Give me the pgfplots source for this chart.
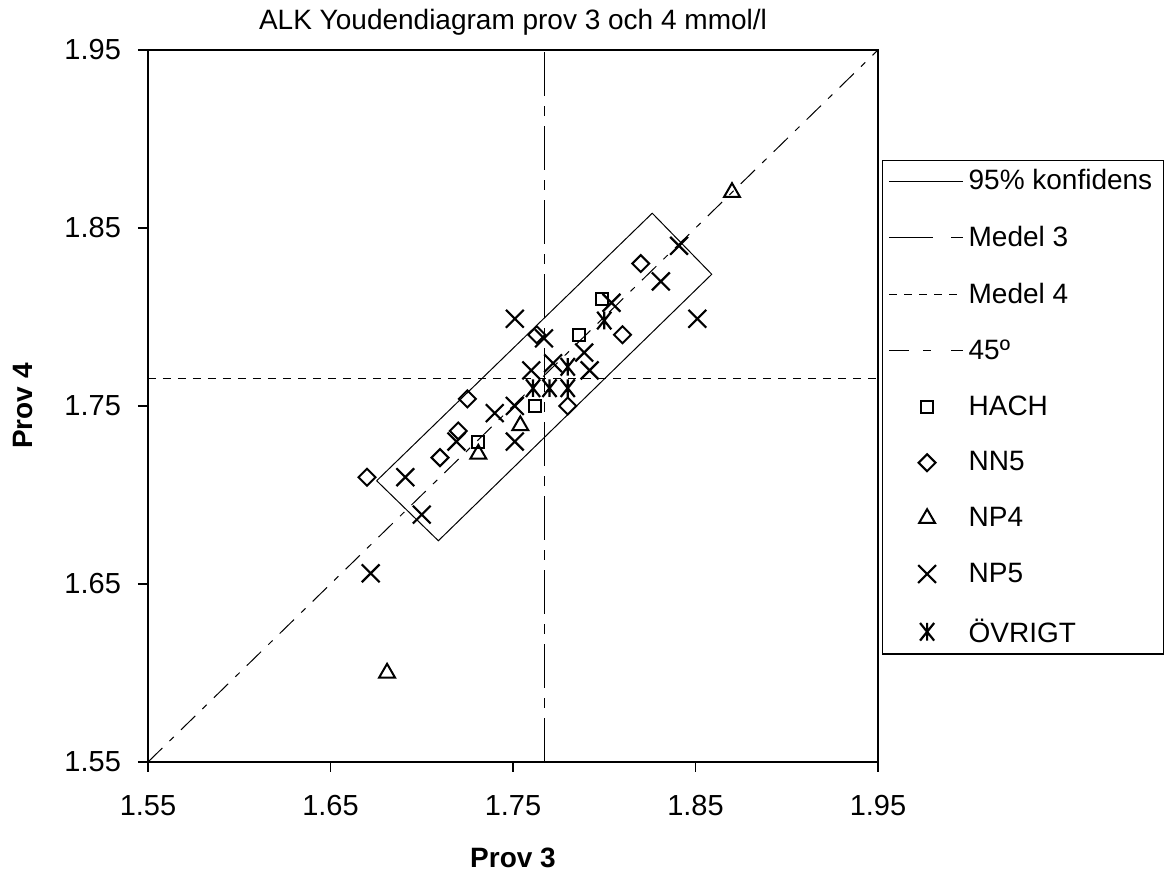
\documentclass[border=0pt]{standalone}
\usepackage{fontspec}
\setmainfont{Liberation Sans}
\usepackage{pgfplots}
\pgfplotsset{compat=1.18}
\pgfdeclareplotmark{xstar}{%
  \pgfpathmoveto{\pgfqpoint{-0.8\pgfplotmarksize}{-\pgfplotmarksize}}%
  \pgfpathlineto{\pgfqpoint{0.8\pgfplotmarksize}{\pgfplotmarksize}}%
  \pgfpathmoveto{\pgfqpoint{-0.8\pgfplotmarksize}{\pgfplotmarksize}}%
  \pgfpathlineto{\pgfqpoint{0.8\pgfplotmarksize}{-\pgfplotmarksize}}%
  \pgfpathmoveto{\pgfqpoint{0pt}{-\pgfplotmarksize}}%
  \pgfpathlineto{\pgfqpoint{0pt}{\pgfplotmarksize}}%
  \pgfusepathqstroke}
\pgfplotsset{
  lineleg/.style={legend image code/.code={\draw[##1] (0pt,0pt) -- (37pt,0pt);}},
  markleg/.style={legend image code/.code={\draw[mark repeat=2,mark phase=2,##1] plot coordinates {(0pt,0pt)(19pt,0pt)(38pt,0pt)};}},
  mthreeleg/.style={legend image code/.code={\draw[black,line width=0.5pt] (0pt,0pt) -- (23pt,0pt) (31pt,0pt) -- (37pt,0pt);}},
  fortyfiveleg/.style={legend image code/.code={\draw[black,line width=0.5pt] (0pt,0pt) -- (11pt,0pt) (17pt,0pt) -- (21pt,0pt) (31pt,0pt) -- (37pt,0pt);}},
}
\begin{document}
\begin{tikzpicture}
\path[use as bounding box] (-74pt,-57pt) rectangle (514pt,381pt);
\begin{axis}[
  at={(0pt,0pt)}, anchor=south west,
  scale only axis, width=365pt, height=356pt,
  xmin=1.55, xmax=1.95, ymin=1.55, ymax=1.95,
  xtick={1.55,1.65,1.75,1.85,1.95}, ytick={1.55,1.65,1.75,1.85,1.95},
  xticklabels={1.55,1.65,1.75,1.85,1.95},
  yticklabels={1.55,1.65,1.75,1.85,1.95},
  tick align=outside, major tick length=5pt,
  tick style={black, line width=0.6pt},
  xtick pos=bottom, ytick pos=left,
  axis line style={line width=0.6pt},
  ticklabel style={font=\fontsize{14.5}{17}\selectfont},
  xticklabel style={yshift=-8pt},
  yticklabel style={xshift=-5pt},
  title={ALK Youdendiagram prov 3 och 4 mmol/l},
  title style={font=\fontsize{14}{16}\selectfont, at={(axis description cs:0.5,1.0215)}, anchor=center},
  xlabel={Prov 3}, ylabel={Prov 4},
  xlabel style={font=\bfseries\fontsize{14}{16}\selectfont, at={(axis description cs:0.5,-0.1348)}, anchor=center},
  ylabel style={font=\bfseries\fontsize{14}{16}\selectfont, at={(axis description cs:-0.1712,0.5)}, anchor=center},
  clip=true,
  legend style={at={(axis description cs:1.0055,0.8455)}, anchor=north west,
    font=\fontsize{14}{16}\selectfont, draw=black, line width=0.6pt,
    row sep=13.7pt, inner xsep=3pt, inner ysep=3pt,
    nodes={inner xsep=2.5pt, inner ysep=1.5pt, anchor=west}},
  legend cell align=left,
]
\addplot[black, line width=0.5pt, lineleg]
  coordinates {(1.6753,1.7080)(1.8263,1.8583)(1.8589,1.8240)(1.7091,1.6743)(1.6753,1.7080)};
\addlegendentry{95\% konfidens}
\addplot[black, line width=0.5pt, dash pattern=on 22pt off 5pt on 5pt off 5pt, mthreeleg]
  coordinates {(1.7672,1.55)(1.7672,1.95)};
\addlegendentry{Medel 3}
\addplot[black, line width=0.5pt, dash pattern=on 4pt off 3.5pt, lineleg]
  coordinates {(1.55,1.7656)(1.95,1.7656)};
\addlegendentry{Medel 4}
\addplot[black, line width=0.5pt, dash pattern=on 10pt off 5pt on 3pt off 5pt, fortyfiveleg]
  coordinates {(1.55,1.55)(1.95,1.95)};
\addlegendentry{45º}
\addplot[only marks, mark=square, mark size=3pt, mark options={black, line width=1pt, fill=none}, markleg]
  coordinates {(1.731,1.730)(1.762,1.750)(1.799,1.810)(1.786,1.790)};
\addlegendentry{HACH}
\addplot[only marks, mark=square, mark size=3pt, mark options={black, line width=1pt, fill=none, rotate=45}, markleg]
  coordinates {(1.670,1.710)(1.710,1.721)(1.720,1.736)(1.725,1.754)(1.763,1.790)(1.780,1.750)(1.810,1.790)(1.820,1.830)};
\addlegendentry{NN5}
\addplot[only marks, mark=triangle, mark size=4.6pt, mark options={black, line width=1pt, fill=none}, markleg]
  coordinates {(1.681,1.600)(1.731,1.723)(1.754,1.739)(1.870,1.870)};
\addlegendentry{NP4}
\addplot[only marks, mark=x, mark size=6.3pt, mark options={black, line width=1.1pt}, markleg]
  coordinates {(1.672,1.656)(1.691,1.710)(1.700,1.689)(1.719,1.730)(1.740,1.746)(1.751,1.750)(1.751,1.730)(1.751,1.799)(1.760,1.770)(1.767,1.788)(1.772,1.774)(1.789,1.780)(1.792,1.770)(1.804,1.808)(1.831,1.820)(1.841,1.840)(1.851,1.799)};
\addlegendentry{NP5}
\addplot[only marks, mark=xstar, mark size=4.4pt, mark options={black, line width=1.1pt}, markleg]
  coordinates {(1.761,1.760)(1.770,1.760)(1.780,1.760)(1.780,1.772)(1.800,1.798)};
\addlegendentry{ÖVRIGT}
\end{axis}
\end{tikzpicture}
\end{document}
